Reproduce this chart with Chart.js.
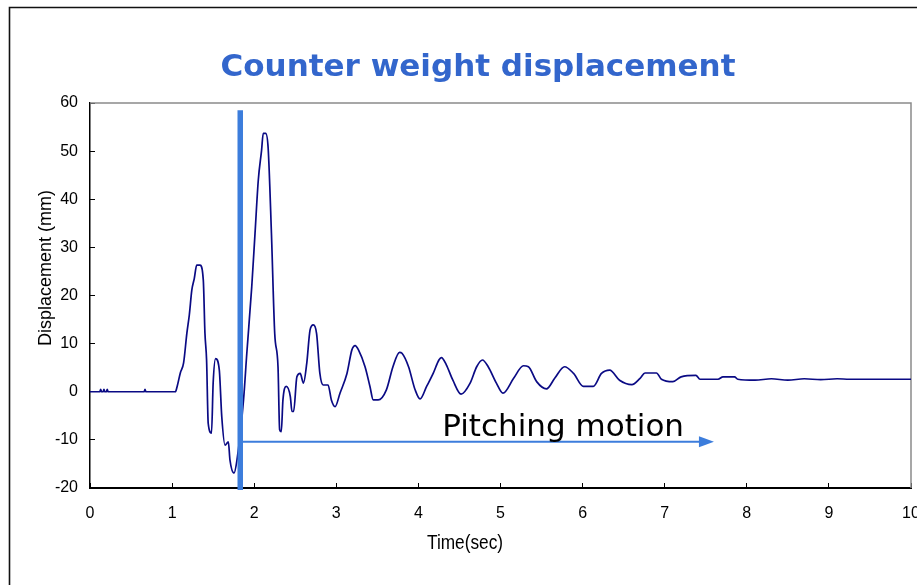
<!DOCTYPE html>
<html>
<head>
<meta charset="utf-8">
<script src="https://cdn.jsdelivr.net/npm/chart.js@4.4.0/dist/chart.umd.min.js"></script>
<style>
  html, body { margin: 0; padding: 0; background: #fff; }
  #wrap { width: 917px; height: 585px; }
</style>
</head>
<body>
<div id="wrap"><canvas id="dispChart" width="917" height="585"></canvas></div>
<script>
const timeSec = [
  0, 0.12, 0.13, 0.14, 0.16, 0.17, 0.18, 0.2, 0.21, 0.22, 0.66, 0.67, 0.68,
  1.04, 1.06, 1.1, 1.14, 1.18, 1.21, 1.24, 1.27, 1.3, 1.34, 1.38, 1.4, 1.42,
  1.44, 1.48, 1.5, 1.53, 1.575, 1.605, 1.645, 1.685, 1.705, 1.754, 1.79,
  1.87, 1.91, 1.97, 2.01, 2.05, 2.09, 2.11, 2.14, 2.17, 2.21, 2.25, 2.29,
  2.31, 2.33, 2.35, 2.39, 2.44, 2.46, 2.48, 2.52, 2.56, 2.6, 2.64, 2.68,
  2.72, 2.76, 2.8, 2.84, 2.9, 2.94, 2.985, 3.045, 3.13, 3.19, 3.23, 3.27,
  3.35, 3.41, 3.45, 3.51, 3.61, 3.69, 3.77, 3.8, 3.88, 3.96, 4.02, 4.1,
  4.18, 4.25, 4.28, 4.34, 4.42, 4.52, 4.63, 4.71, 4.78, 4.85, 4.95, 5.03,
  5.16, 5.28, 5.34, 5.44, 5.56, 5.66, 5.78, 5.89, 6.01, 6.13, 6.23, 6.33,
  6.45, 6.6, 6.7, 6.76, 6.9, 6.96, 7.1, 7.2, 7.38, 7.43, 7.65, 7.71, 7.85,
  7.89, 8.1, 8.3, 8.5, 8.7, 8.9, 9.1, 9.25, 10
];
const dispMm = [
  0, 0, 0.5, 0, 0, 0.5, 0, 0, 0.5, 0, 0, 0.5, 0,
  0, 1, 3.9, 6, 12.2, 16, 21.1, 23.5, 26.3, 26.3, 23.2, 12.2, 6.6,
  -6.6, -8.6, 1.8, 6.9, 4.5, -5.2, -11.1, -10.4, -14.2, -16.9, -14.2,
  -1.7, 8, 21.8, 32.9, 44, 50.2, 53.7, 53.7, 50.6, 32.9, 12.1, 5.2,
  -7.9, -8.3, -1.7, 1.1, -1, -4.1, -4.1, 3.1, 3.8, 1.8, 5.9, 12.8,
  13.9, 12.1, 3.8, 1.4, 1.4, -1.7, -3.1, -0.3, 3.8, 8.7, 9.6, 8.7,
  5.2, 1.1, -1.7, -1.7, 0.4, 5.2, 8.2, 8, 5.2, 0.4, -1.5, 1.1,
  3.8, 6.6, 7.1, 5.6, 2.4, -0.5, 1.8, 5.2, 6.6, 5.2, 1.8, -0.3,
  2.8, 5.4, 5.2, 2.1, 0.6, 2.8, 5.2, 3.8, 1.1, 1.1, 3.8, 4.5,
  2.4, 1.5, 2.8, 3.9, 3.9, 2.6, 2.1, 3.1, 3.4, 2.6, 2.6, 3.1, 3.1,
  2.6, 2.4, 2.7, 2.4, 2.7, 2.5, 2.7, 2.6, 2.6
];
const xTickValues = [0, 1, 2, 3, 4, 5, 6, 7, 8, 9, 10];
const yTickValues = [-20, -10, 0, 10, 20, 30, 40, 50, 60];

// annotation: start of pitching motion
const markerTime = 1.83;
const markerTop = 58.5;
const markerBottom = -20.4;
const arrowStart = 1.86;
const arrowEnd = 7.6;
const arrowLevel = -10.4;
const labelTime = 4.29;
const labelLevel = -9.2;

const accent = "#3c7ddc";

const framePlugin = {
  id: "frame",
  beforeDatasetsDraw(chart) {
    const ctx = chart.ctx;
    const a = chart.chartArea;
    ctx.save();
    ctx.strokeStyle = "#8a8a8a";
    ctx.lineWidth = 1.5;
    ctx.beginPath();
    ctx.moveTo(a.left, a.top);
    ctx.lineTo(a.right, a.top);
    ctx.lineTo(a.right, a.bottom);
    ctx.stroke();
    ctx.restore();
  },
  afterDatasetsDraw(chart) {
    const ctx = chart.ctx;
    const x = chart.scales.x;
    const y = chart.scales.y;
    ctx.save();
    // vertical marker
    ctx.strokeStyle = accent;
    ctx.lineWidth = 5.5;
    ctx.beginPath();
    ctx.moveTo(x.getPixelForValue(markerTime), y.getPixelForValue(markerTop));
    ctx.lineTo(x.getPixelForValue(markerTime), y.getPixelForValue(markerBottom));
    ctx.stroke();
    // arrow
    const ay = y.getPixelForValue(arrowLevel);
    const ax0 = x.getPixelForValue(arrowStart);
    const ax1 = x.getPixelForValue(arrowEnd);
    ctx.lineWidth = 2;
    ctx.beginPath();
    ctx.moveTo(ax0, ay);
    ctx.lineTo(ax1 - 10, ay);
    ctx.stroke();
    ctx.fillStyle = accent;
    ctx.beginPath();
    ctx.moveTo(ax1, ay);
    ctx.lineTo(ax1 - 15, ay - 5.5);
    ctx.lineTo(ax1 - 15, ay + 5.5);
    ctx.closePath();
    ctx.fill();
    // label
    ctx.fillStyle = "#000";
    ctx.font = "31px 'DejaVu Sans', Verdana, sans-serif";
    ctx.textAlign = "left";
    ctx.textBaseline = "alphabetic";
    ctx.fillText("Pitching motion", x.getPixelForValue(labelTime), y.getPixelForValue(labelLevel), 245);
    ctx.restore();
  },
  afterDraw(chart) {
    const ctx = chart.ctx;
    ctx.save();
    // outer frame
    ctx.strokeStyle = "#111";
    ctx.lineWidth = 1.6;
    ctx.beginPath();
    ctx.moveTo(9.5, 600);
    ctx.lineTo(9.5, 7.5);
    ctx.lineTo(930, 7.5);
    ctx.stroke();
    // chart title
    ctx.fillStyle = "#3366cc";
    ctx.font = "bold 31px 'DejaVu Sans', Verdana, sans-serif";
    ctx.textAlign = "center";
    ctx.textBaseline = "alphabetic";
    ctx.fillText("Counter weight displacement", 478, 76, 522);
    // axis titles
    ctx.fillStyle = "#000";
    ctx.font = "20px 'Liberation Sans Narrow', 'Liberation Sans', Arial, sans-serif";
    ctx.fillText("Time(sec)", 465, 549, 76);
    ctx.translate(46, 268);
    ctx.rotate(-Math.PI / 2);
    ctx.font = "18px 'Liberation Sans', Arial, sans-serif";
    ctx.textBaseline = "middle";
    ctx.fillText("Displacement (mm)", 0, 0);
    ctx.restore();
  }
};

const tickFont = { family: "'Liberation Sans Narrow', 'Liberation Sans', Arial, sans-serif", size: 16 };

new Chart(document.getElementById("dispChart"), {
  type: "line",
  data: {
    datasets: [
      {
        label: "Displacement",
        data: timeSec.map((t, i) => ({ x: t, y: dispMm[i] })),
        borderColor: "#0a0a84",
        borderWidth: 1.7,
        pointRadius: 0,
        cubicInterpolationMode: "monotone",
        fill: false,
      },
    ],
  },
  options: {
    responsive: false,
    animation: false,
    events: [],
    layout: { padding: { left: 0, top: 103, right: 6, bottom: 0 } },
    plugins: {
      legend: { display: false },
      title: { display: false },
      tooltip: { enabled: false },
    },
    scales: {
      x: {
        type: "linear",
        min: 0,
        max: 10,
        afterBuildTicks: (scale) => {
          scale.ticks = xTickValues.map((v) => ({ value: v }));
        },
        afterFit: (scale) => {
          scale.height = 97;
          scale.paddingLeft = 0;
          scale.paddingRight = 0;
        },
        grid: { drawOnChartArea: false, tickLength: -5, color: "#000", tickWidth: 1 },
        border: { color: "#000", width: 2 },
        ticks: { color: "#000", font: tickFont, padding: 21, maxRotation: 0 },
      },
      y: {
        type: "linear",
        min: -20,
        max: 60,
        afterBuildTicks: (scale) => {
          scale.ticks = yTickValues.map((v) => ({ value: v }));
        },
        afterFit: (scale) => {
          scale.width = 90;
          scale.paddingTop = 0;
          scale.paddingBottom = 0;
        },
        grid: { drawOnChartArea: false, tickLength: -5, color: "#000", tickWidth: 1 },
        border: { color: "#000", width: 1.5 },
        ticks: { color: "#000", font: tickFont, padding: 17 },
      },
    },
  },
  plugins: [framePlugin],
});
</script>
</body>
</html>
